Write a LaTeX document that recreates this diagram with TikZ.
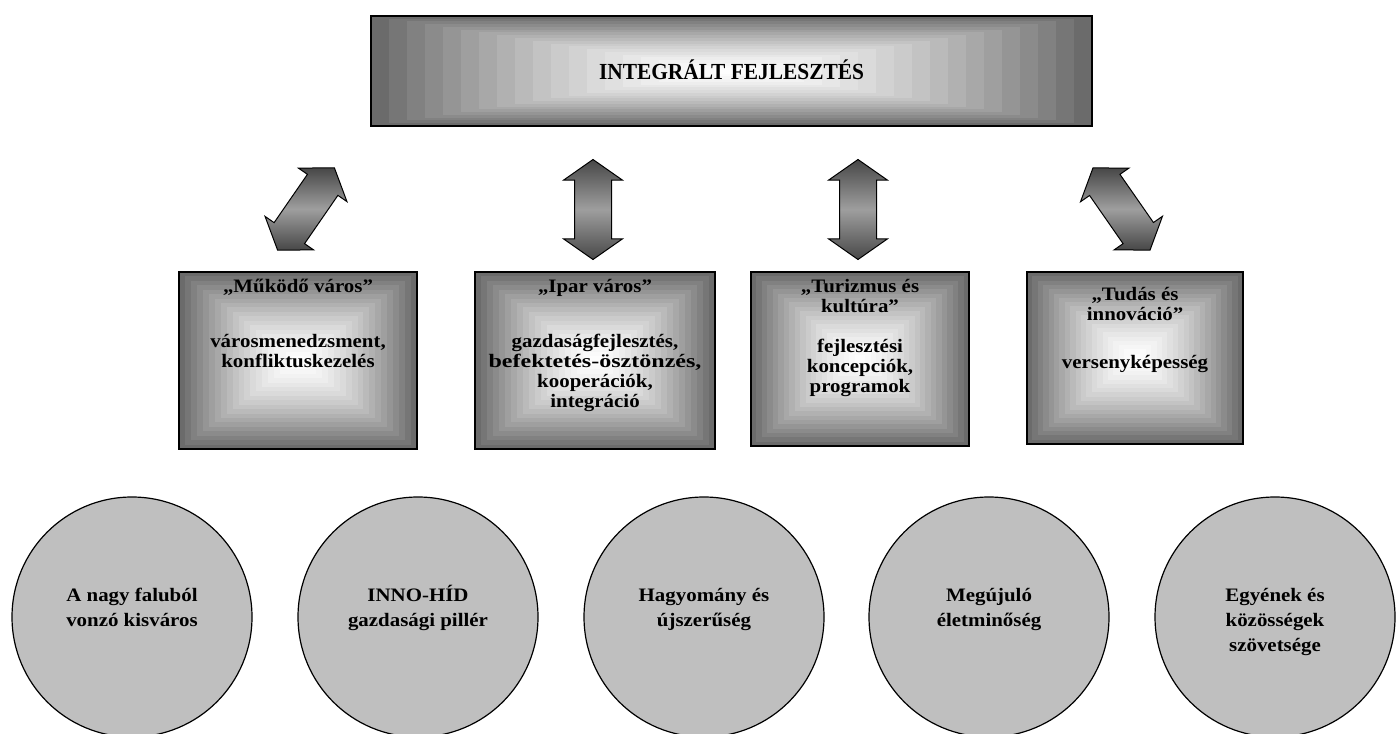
\documentclass[tikz,border=0pt]{standalone}
\usepackage{fontspec}
\usepackage{graphicx}
\setmainfont{Liberation Serif}[FakeStretch=1.1]
\newfontfamily\headfont{Liberation Serif}[FakeStretch=0.93]
\usetikzlibrary{shapes.arrows}

% bevel shading: grey rim, white centre
\def\bevel#1#2#3#4{
  \foreach \t in {0,0.05,...,0.96} {
    \pgfmathsetmacro\shd{58*(1-\t)^1.5}
    \fill[black!\shd] ({#1+\t*(#3-#1)/2},{#2+\t*(#4-#2)/2}) rectangle ({#3-\t*(#3-#1)/2},{#4-\t*(#4-#2)/2});
  }
}

\begin{document}
\begin{tikzpicture}[x=1pt,y=-1pt,
  txt/.style={font=\fontsize{19}{20}\selectfont\bfseries, align=center, inner sep=0pt},
  ctxt/.style={font=\fontsize{19}{25}\selectfont\bfseries, align=center, inner sep=0pt},
  frame/.style={draw, line width=1.5pt, inner sep=0pt},
  ball/.style={circle, draw, line width=1.2pt, fill=black!25, minimum size=240pt, inner sep=0pt},
  dbl/.style={double arrow, draw, line width=1pt, minimum height=100pt, inner xsep=0pt, inner ysep=18pt,
    double arrow head extend=11pt, double arrow tip angle=110,
    top color=black!72, bottom color=black!72, middle color=black!38}]
  \useasboundingbox (0,0) rectangle (1396,733);

  % top box
  \bevel{371}{16}{1092}{126}
  \node[frame, line width=1.8pt, minimum width=721pt, minimum height=110pt] (integ) at (731.5,71) {};
  \node[txt, font=\fontsize{23}{23}\headfont\bfseries] (integ-t) at (731.5,70) {INTEGRÁLT FEJLESZTÉS};

  % middle boxes
  \bevel{179}{272}{417}{449}
  \node[frame, minimum width=238pt, minimum height=177pt] (mukodo) at (298,360.5) {};
  \node[txt, anchor=north] (mukodo-t) at ([yshift=-8pt]mukodo.north)
    {„Működő város”\\[35pt] városmenedzsment,\\ konfliktuskezelés};

  \bevel{475}{272}{715}{449}
  \node[frame, minimum width=240pt, minimum height=177pt] (ipar) at (595,360.5) {};
  \node[txt, anchor=north] (ipar-t) at ([yshift=-8pt]ipar.north)
    {„Ipar város”\\[35pt] gazdaságfejlesztés,\\ \scalebox{1.15}[1]{befektetés-ösztönzés,}\\ kooperációk,\\ integráció};

  \bevel{751}{272}{969}{446}
  \node[frame, minimum width=218pt, minimum height=174pt] (turiz) at (860,359) {};
  \node[txt, anchor=north] (turiz-t) at ([yshift=-8pt]turiz.north)
    {„Turizmus és\\ kultúra”\\[20pt] fejlesztési\\ koncepciók,\\ programok};

  \bevel{1027}{272}{1243}{444}
  \node[frame, minimum width=216pt, minimum height=172pt] (tudas) at (1135,358) {};
  \node[txt, anchor=north] (tudas-t) at ([yshift=-16pt]tudas.north)
    {„Tudás és\\ innováció”\\[28pt] versenyképesség};

  % double arrows
  \node[dbl, rotate=55.4] (arr1) at (306,209) {};
  \node[dbl, rotate=90] (arr2) at (593,209.5) {};
  \node[dbl, rotate=90] (arr3) at (858,209.5) {};
  \node[dbl, rotate=-55.2] (arr4) at (1121.5,209) {};

  % circles
  \node[ball] (kisvaros) at (132,617) {};
  \node[ball] (innohid) at (418,617) {};
  \node[ball] (hagyom) at (704,617) {};
  \node[ball] (megujulo) at (989,617) {};
  \node[ball] (egyenek) at (1275,617) {};
  \node[ctxt, anchor=north] (kisvaros-t) at ([yshift=34pt]kisvaros.center) {\rule{0pt}{18pt}A nagy faluból\\ vonzó kisváros};
  \node[ctxt, anchor=north] (innohid-t) at ([yshift=34pt]innohid.center) {\rule{0pt}{18pt}INNO-HÍD\\ gazdasági pillér};
  \node[ctxt, anchor=north] (hagyom-t) at ([yshift=34pt]hagyom.center) {\rule{0pt}{18pt}Hagyomány és\\ újszerűség};
  \node[ctxt, anchor=north] (megujulo-t) at ([yshift=34pt]megujulo.center) {\rule{0pt}{18pt}Megújuló\\ életminőség};
  \node[ctxt, anchor=north] (egyenek-t) at ([yshift=34pt]egyenek.center) {\rule{0pt}{18pt}Egyének és\\ közösségek\\ szövetsége};
\end{tikzpicture}
\end{document}
